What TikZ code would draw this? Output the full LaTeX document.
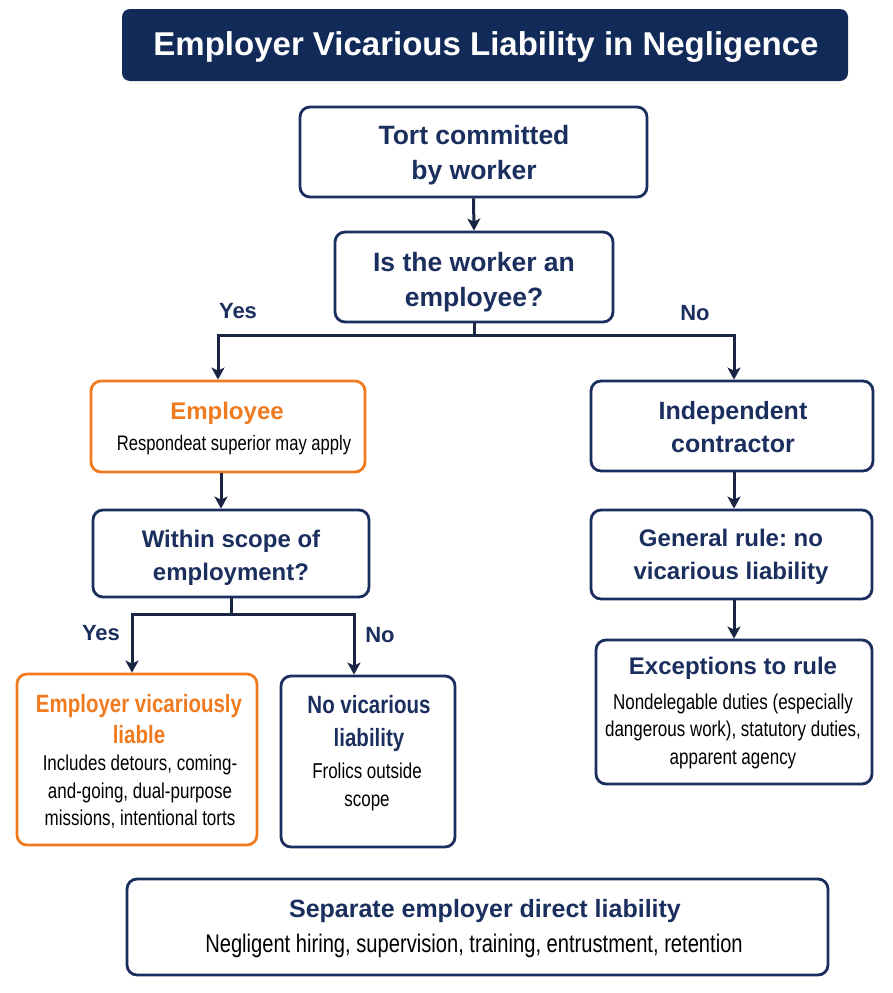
\documentclass[tikz,border=0pt]{standalone}
\usepackage{fontspec}
\setmainfont{Liberation Sans}
\newfontfamily\condfont{Liberation Sans}[FakeStretch=0.79]
\newfontfamily\condhfont{Liberation Sans}[FakeStretch=0.82]
\usetikzlibrary{arrows.meta}
\frenchspacing
\definecolor{navy}{HTML}{1B2F5E}
\definecolor{titlebg}{HTML}{122A58}
\definecolor{orng}{HTML}{F07A1E}
\definecolor{arrowc}{HTML}{1A2544}
\tikzset{
  box/.style={draw=navy, line width=2.8pt, rounded corners=10pt, fill=white, inner sep=0pt},
  obox/.style={box, draw=orng},
  hd/.style={font=\fontsize{26.5}{35}\selectfont\bfseries, text=navy, align=center, inner sep=0pt},
  hds/.style={font=\fontsize{24}{33}\selectfont\bfseries, text=navy, align=center, inner sep=0pt},
  hdc/.style={font=\condhfont\fontsize{25}{31}\selectfont\bfseries, text=navy, align=center, inner sep=0pt},
  bd/.style={font=\condfont\fontsize{21.5}{27.5}\selectfont, text=black, align=center, inner sep=0pt},
  lbl/.style={font=\fontsize{22}{26}\selectfont\bfseries, text=navy, inner sep=0pt},
  arr/.style={draw=arrowc, line width=3pt, -{Stealth[length=12pt,width=13pt,inset=3pt]}},
}
\begin{document}
\begin{tikzpicture}[x=1pt,y=-1pt]
\useasboundingbox (0,0) rectangle (892,993);
% title
\node[fill=titlebg, rounded corners=8pt, minimum width=726pt, minimum height=72pt, inner sep=0pt] (title) at (485,45) {};
\node[font=\fontsize{33}{38}\selectfont\bfseries, text=white, inner sep=0pt] (titletext) at (486,47) {Employer Vicarious Liability in Negligence};
% boxes
\node[box, minimum width=347pt, minimum height=90pt] (tort) at (473.5,152) {};
\node[box, minimum width=278pt, minimum height=90pt] (is) at (474,277) {};
\node[obox, minimum width=274pt, minimum height=91pt] (emp) at (228,426.5) {};
\node[box, minimum width=282pt, minimum height=90pt] (ind) at (732,426) {};
\node[box, minimum width=276pt, minimum height=87pt] (within) at (231,553.5) {};
\node[obox, minimum width=240pt, minimum height=171pt] (evl) at (137,759.5) {};
\node[box, minimum width=174pt, minimum height=171pt] (novl) at (368,761.5) {};
\node[box, minimum width=281pt, minimum height=89pt] (gen) at (731.5,554.5) {};
\node[box, minimum width=276pt, minimum height=144pt] (exc) at (734,712) {};
\node[box, minimum width=701pt, minimum height=96pt] (sep) at (477.5,927) {};
% texts
\node[hd] (tortt) at (474,155) {Tort committed\\by worker};
\node[hd] (ist) at (474,282) {Is the worker an\\employee?};
\node[hds, text=orng] (empt) at (227,413) {Employee};
\node[bd, font=\condfont\fontsize{21}{27.5}\selectfont] (empb) at (234,445) {Respondeat superior may apply};
\node[hds, font=\fontsize{25}{33}\selectfont\bfseries] (indt) at (733,427) {Independent\\contractor};
\node[hds] (witht) at (231,558) {Within scope of\\employment?};
\node[hds] (gent) at (731,557) {General rule: no\\vicarious liability};
\node[hds] (exct) at (733,668) {Exceptions to rule};
\node[bd] (excb) at (733,731) {Nondelegable duties (especially\\dangerous work), statutory duties,\\apparent agency};
\node[hdc, text=orng] (evlt) at (139,719) {Employer vicariously\\liable};
\node[bd] (evlb) at (140,792) {Includes detours, coming-\\and-going, dual-purpose\\missions, intentional torts};
\node[hdc, font=\condhfont\fontsize{25}{33}\selectfont\bfseries] (novlt) at (369,724) {No vicarious\\liability};
\node[bd] (novlb) at (367,787) {Frolics outside\\scope};
\node[hds, font=\fontsize{25}{33}\selectfont\bfseries] (sept) at (485,911) {Separate employer direct liability};
\node[bd, font=\condfont\fontsize{25.5}{30}\selectfont] (sepb) at (474,946) {Negligent hiring, supervision, training, entrustment, retention};
% labels
\node[lbl] (yes1) at (238,311) {Yes};
\node[lbl] (no1) at (695,313) {No};
\node[lbl] (yes2) at (101,633) {Yes};
\node[lbl] (no2) at (380,635) {No};
% connectors
\draw[arr] (tort.south) -- (is.north);
\coordinate (b1) at ([yshift=-12pt]is.south);
\draw[arr] (is.south) -- (b1) -| ([xshift=-10pt]emp.north);
\draw[arr] (b1) -| ([xshift=2pt]ind.north);
\draw[arr] ([xshift=-7pt]emp.south) -- ([xshift=-10pt]within.north);
\coordinate (b2) at ([yshift=-16pt]within.south);
\draw[arr] (within.south) -- (b2) -| ([xshift=-5pt]evl.north);
\draw[arr] (b2) -| ([xshift=-14pt]novl.north);
\draw[arr] ([xshift=2pt]ind.south) -- ([xshift=2.5pt]gen.north);
\draw[arr] ([xshift=2.5pt]gen.south) -- (exc.north);
\end{tikzpicture}
\end{document}
